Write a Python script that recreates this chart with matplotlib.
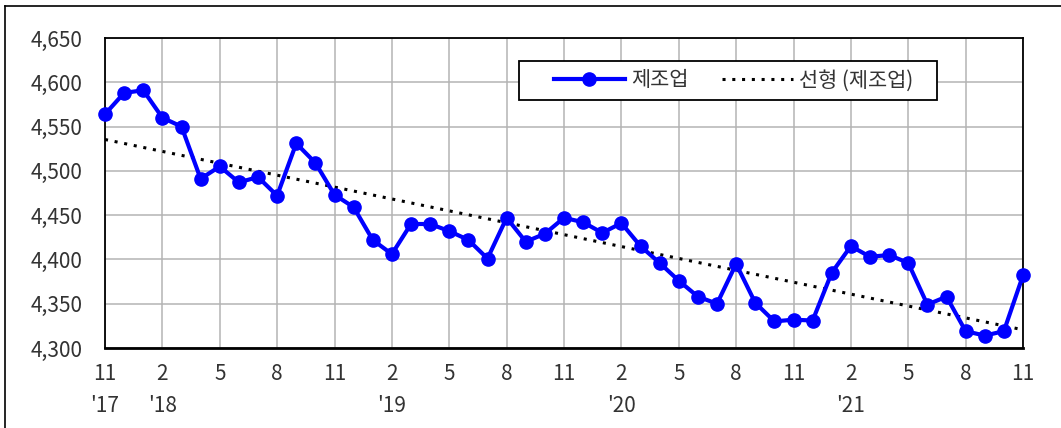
import numpy as np
import matplotlib
matplotlib.use('Agg')
from matplotlib import pyplot as plt
from matplotlib.lines import Line2D
from matplotlib.patches import Rectangle

plt.rcParams['font.family'] = ['Noto Sans CJK KR', 'DejaVu Sans']

# monthly values, Nov 2017 .. Nov 2021
values = [4564, 4588, 4591, 4560, 4550, 4491, 4505, 4487, 4493, 4472,
          4531, 4509, 4473, 4459, 4422, 4406, 4440, 4440, 4432, 4422,
          4401, 4447, 4420, 4429, 4447, 4442, 4430, 4441, 4415, 4396,
          4376, 4358, 4350, 4395, 4351, 4330, 4332, 4331, 4385, 4415,
          4403, 4405, 4396, 4349, 4358, 4319, 4314, 4319, 4382]
tick_labels = ["11\n'17", "2\n'18", "5\n", "8\n", "11\n",
               "2\n'19", "5\n", "8\n", "11\n",
               "2\n'20", "5\n", "8\n", "11\n",
               "2\n'21", "5\n", "8\n", "11\n"]
series_name = '제조업'
trend_name = '선형 (제조업)'

W, H = 1061, 428

x = np.arange(len(values))
slope, intercept = np.polyfit(x, values, 1)
trend = slope * x + intercept

fig = plt.figure(figsize=(W / 100, H / 100), dpi=100)
ax = fig.add_axes([105 / W, 1 - 348 / H, 918 / W, 310 / H])

ax.plot(x, values, color='#0000ff', linewidth=3, marker='o', markersize=9.5,
        zorder=3, clip_on=False)
ax.plot(x, trend, color='black', linestyle=(0, (1, 2.2)), linewidth=2.2, zorder=2)

ax.set_xlim(0, len(values) - 1)
ax.set_ylim(4300, 4650)
ax.set_yticks(np.arange(4300, 4651, 50))
ax.set_yticklabels(['{:,}'.format(v) for v in range(4300, 4651, 50)])
ax.set_xticks(x[::3])
ax.set_xticklabels(tick_labels, linespacing=1.55, va='top')
ax.tick_params(axis='both', length=0, labelsize=15, labelcolor='#333333')
ax.tick_params(axis='x', pad=11)
ax.tick_params(axis='y', pad=16)
ax.grid(True, color='#b4b4b4', linewidth=1.1)
ax.set_axisbelow(True)
for s in ax.spines.values():
  s.set_linewidth(1.3)
  s.set_color('black')
ax.spines['bottom'].set_linewidth(2)

# legend box drawn separately so the padding can be uneven
fig.add_artist(Rectangle((519 / W, 1 - 100 / H), 418 / W, 39 / H,
                         transform=fig.transFigure, facecolor='white',
                         edgecolor='black', linewidth=1.3, zorder=4))
handles = [Line2D([], [], color='#0000ff', linewidth=3, marker='o', markersize=9.5),
           Line2D([], [], color='black', linestyle=(0, (1, 2.2)), linewidth=2.2)]
leg = fig.legend(handles, [series_name, trend_name], ncol=2, loc='center left',
                 bbox_to_anchor=(554 / W, 1 - 80.5 / H),
                 borderaxespad=0, borderpad=0, frameon=False,
                 fontsize=15, handlelength=3.4, columnspacing=1.6,
                 handletextpad=0.3)
leg.set_zorder(5)
for t in leg.get_texts():
  t.set_color('#333333')

# outer frame (left and top only)
fig.add_artist(Line2D([5 / W, 5 / W], [0, 1 - 6 / H], color='black',
                      linewidth=1.2, transform=fig.transFigure))
fig.add_artist(Line2D([5 / W, 1], [1 - 6 / H, 1 - 6 / H], color='black',
                      linewidth=1.2, transform=fig.transFigure))

fig.savefig('out.png', dpi=100)
